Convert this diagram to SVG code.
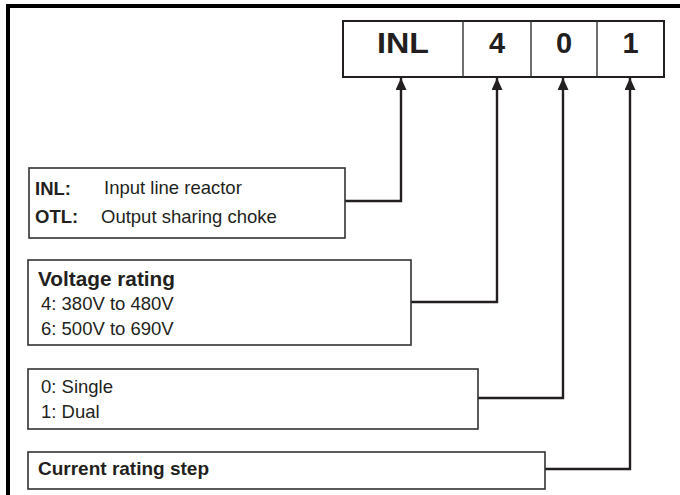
<svg xmlns="http://www.w3.org/2000/svg" width="680" height="495" viewBox="0 0 680 495">
<style>
text{font-family:"Liberation Sans",Arial,sans-serif;fill:#231f20}
.b{font-weight:bold}
.big{font-size:29px;font-weight:bold;text-anchor:middle}
.box{fill:#fff;stroke:#333;stroke-width:1.6}
.t{font-size:18.5px}
.con{fill:none;stroke:#231f20;stroke-width:2.4}
.frame{stroke:#000;stroke-width:4;fill:none}
</style>
<defs>
<marker id="ah" markerWidth="13" markerHeight="11" refX="12" refY="5.5" orient="auto" markerUnits="userSpaceOnUse" viewBox="0 0 13 11">
<path d="M0,0 L12,5.5 L0,11 Z" fill="#231f20"/>
</marker>
</defs>
<rect width="680" height="495" fill="#fff"/>
<path class="frame" d="M8,495 V6 H680"/>
<g id="code">
<rect x="343" y="21" width="321" height="56" fill="#fff" stroke="#231f20" stroke-width="2"/>
<line x1="463" y1="21" x2="463" y2="77" stroke="#333" stroke-width="1.4"/>
<line x1="531" y1="21" x2="531" y2="77" stroke="#333" stroke-width="1.4"/>
<line x1="597" y1="21" x2="597" y2="77" stroke="#333" stroke-width="1.4"/>
<text class="big" x="403" y="53" textLength="52" lengthAdjust="spacingAndGlyphs">INL</text>
<text class="big" x="497" y="53">4</text>
<text class="big" x="564" y="53">0</text>
<text class="big" x="630.5" y="53">1</text>
</g>
<g id="connectors">
<path class="con" d="M345,201 H401 V78" marker-end="url(#ah)"/>
<path class="con" d="M411,302 H497 V78" marker-end="url(#ah)"/>
<path class="con" d="M478,398 H563 V78" marker-end="url(#ah)"/>
<path class="con" d="M545,469 H630 V78" marker-end="url(#ah)"/>
</g>
<g id="type">
<rect class="box" x="29" y="168" width="316" height="70"/>
<text class="t b" x="35" y="195" font-size="18">INL:</text>
<text class="t" x="104" y="194">Input line reactor</text>
<text class="t b" x="35" y="223" font-size="18">OTL:</text>
<text class="t" x="101" y="223">Output sharing choke</text>
</g>
<g id="voltage">
<rect class="box" x="28" y="260" width="383" height="85"/>
<text class="b" x="38" y="286" font-size="19.5" textLength="137" lengthAdjust="spacingAndGlyphs">Voltage rating</text>
<text class="t" x="41" y="310">4: 380V to 480V</text>
<text class="t" x="41" y="335">6: 500V to 690V</text>
</g>
<g id="config">
<rect class="box" x="28" y="369" width="450" height="60"/>
<text class="t" x="41" y="393">0: Single</text>
<text class="t" x="41" y="418">1: Dual</text>
</g>
<g id="current">
<rect class="box" x="28" y="452" width="517" height="37"/>
<text class="b" x="38" y="475" font-size="19">Current rating step</text>
</g>
</svg>
